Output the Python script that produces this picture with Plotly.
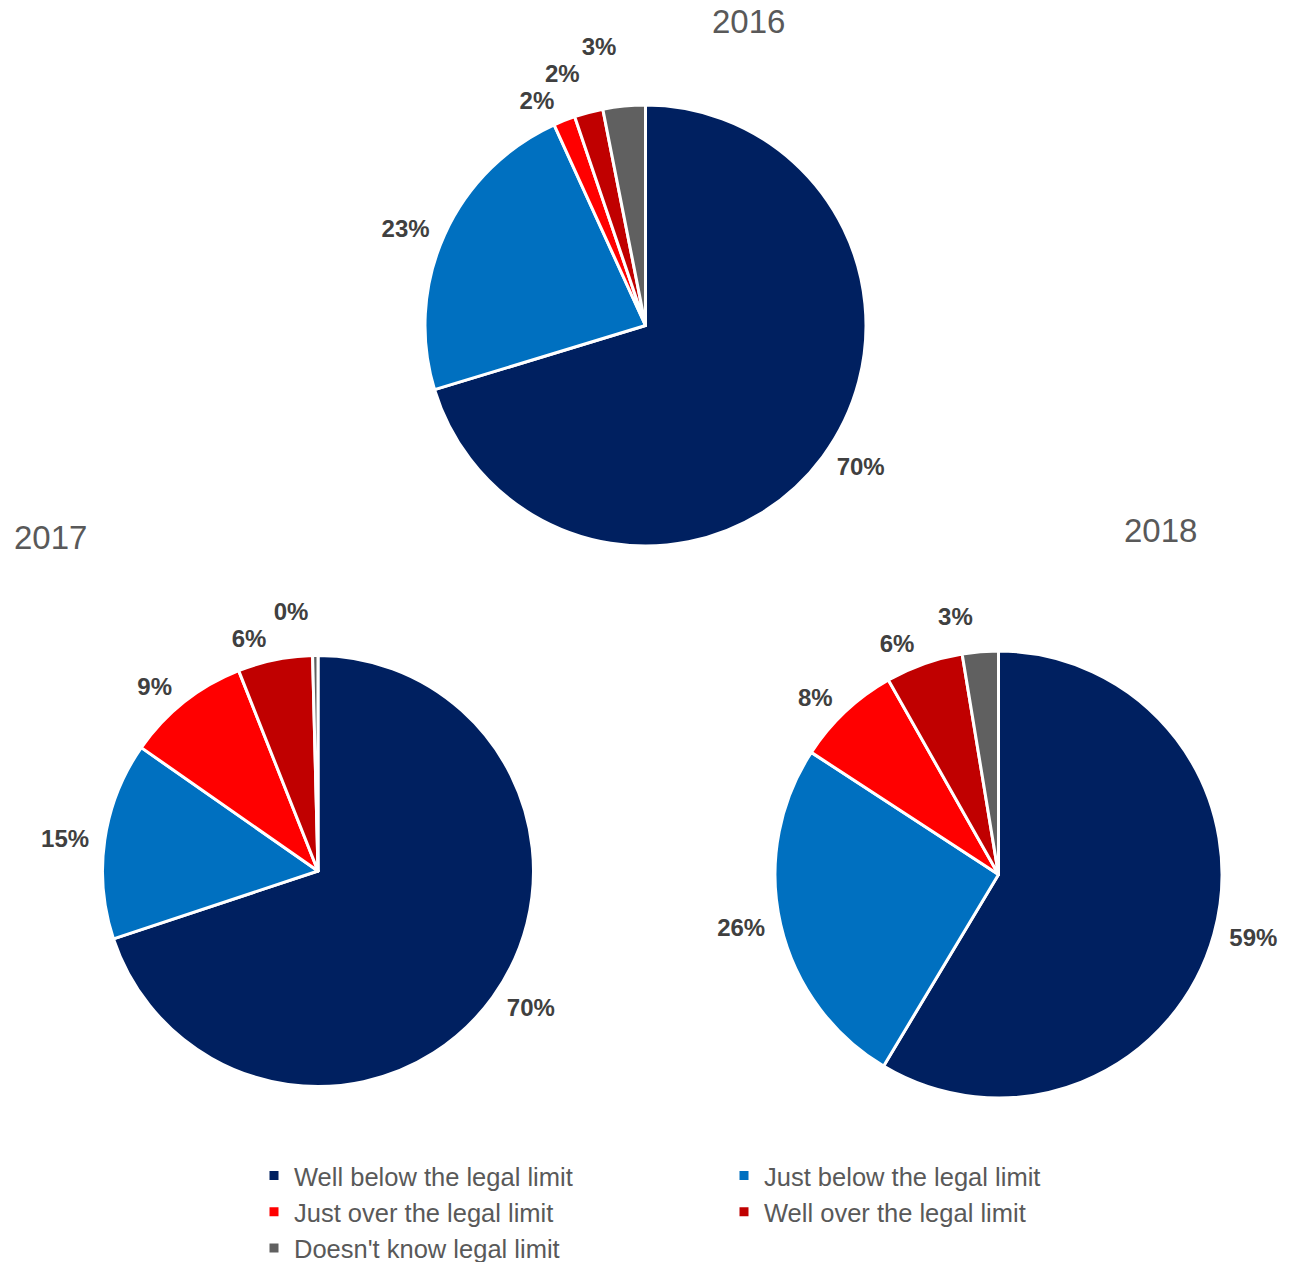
import plotly.graph_objects as go

# Survey answer categories and slice colours
categories = [
    "Well below the legal limit",
    "Just below the legal limit",
    "Just over the legal limit",
    "Well over the legal limit",
    "Doesn't know legal limit",
]
colors = ["#002060", "#0070C0", "#FF0000", "#C00000", "#606060"]

# Share of respondents (%) per year
years = ["2016", "2017", "2018"]
values_2016 = [70.3, 22.9, 1.6, 2.1, 3.1]
values_2017 = [69.9, 14.8, 9.3, 5.6, 0.4]
values_2018 = [58.6, 25.6, 7.6, 5.6, 2.6]

W, H = 1298, 1262
FONT = "Liberation Sans, Arial"
LABEL_GAP = 9  # extra distance between pie edge and its value labels


def domain(cx, cy, r):
    return dict(x=[(cx - r) / W, (cx + r) / W],
                y=[1 - (cy + r) / H, 1 - (cy - r) / H])


pies = [
    (values_2016, (645.5, 325.5, 220.5)),
    (values_2017, (318, 871, 215.5)),
    (values_2018, (998.5, 874.5, 223.5)),
]

fig = go.Figure()
for i, (vals, (cx, cy, r)) in enumerate(pies):
    # the visible pie
    fig.add_trace(go.Pie(
        labels=categories,
        values=vals,
        sort=False,
        direction="clockwise",
        rotation=0,
        domain=domain(cx, cy, r),
        marker=dict(colors=colors, line=dict(color="white", width=3)),
        textinfo="none",
        showlegend=(i == 0),
        hoverinfo="label+value",
    ))
    # a slightly larger transparent pie that carries the value labels
    # (connector lines take the transparent font colour; the text itself is coloured by the span)
    fig.add_trace(go.Pie(
        labels=categories,
        values=vals,
        sort=False,
        direction="clockwise",
        rotation=0,
        domain=domain(cx, cy, r + LABEL_GAP),
        marker=dict(colors=["rgba(0,0,0,0)"] * len(categories),
                    line=dict(width=0)),
        textposition="outside",
        texttemplate='<span style="color:#404040;fill-opacity:1">%{value:.0f}%</span>',
        textfont=dict(family=FONT, size=24, color="rgba(64,64,64,0)", weight="bold"),
        showlegend=False,
        hoverinfo="skip",
    ))

title_pos = [(748, 22), (50, 537), (1160, 530)]
for yr, (tx, ty) in zip(years, title_pos):
    fig.add_annotation(
        text=yr, x=tx / W, y=1 - ty / H, xref="paper", yref="paper",
        xanchor="center", yanchor="middle", showarrow=False,
        font=dict(family=FONT, size=33, color="#595959"),
    )

fig.update_layout(
    width=W, height=H,
    margin=dict(l=0, r=0, t=0, b=0, autoexpand=False),
    paper_bgcolor="white",
    plot_bgcolor="white",
    legend=dict(
        orientation="h",
        x=254 / W, y=1 - 1152.5 / H,
        xanchor="left", yanchor="top",
        entrywidth=425,
        itemwidth=30,
        font=dict(family=FONT, size=25.5, color="#595959"),
        tracegroupgap=0,
    ),
)

fig.write_html("out.html")
